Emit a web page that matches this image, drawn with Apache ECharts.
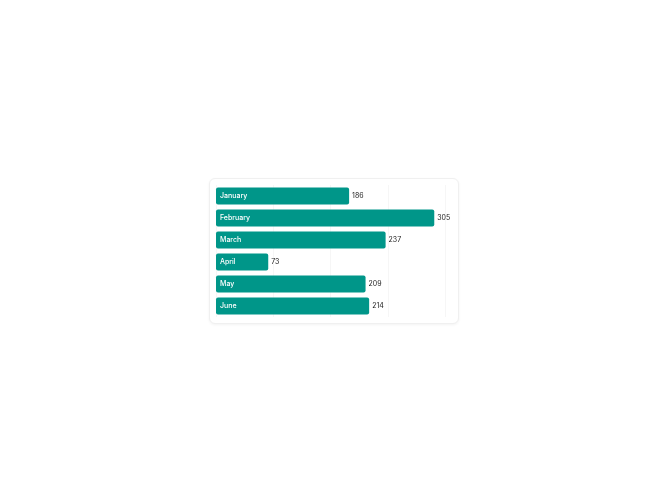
<!DOCTYPE html>
<html>
<head>
<meta charset="utf-8">
<script src="https://cdn.jsdelivr.net/npm/echarts@6/dist/echarts.min.js"></script>
<style>
    html, body { margin: 0; padding: 0; background: #fff; }
    .card {
        position: absolute; left: 209px; top: 178px; width: 248px; height: 144px;
        border: 1px solid #f0f0f0; border-radius: 6px; background: #fff;
        box-shadow: 0 1px 3px rgba(0, 0, 0, 0.05);
    }
    #chart { position: absolute; left: 0; top: 0; width: 668px; height: 501px; }
</style>
</head>
<body>
<div class="card"></div>
<div id="chart"></div>
<script>
// 数据
const months = ['January', 'February', 'March', 'April', 'May', 'June'];
const visitors = [186, 305, 237, 73, 209, 214];

const chart = echarts.init(document.getElementById('chart'));
chart.setOption({
    animation: false,
    textStyle: { fontFamily: 'Inter' },
    grid: { left: 216, right: 223, top: 185, height: 132 },
    xAxis: {
        type: 'value',
        min: 0,
        max: 320,
        interval: 80,
        axisLabel: { show: false },
        axisLine: { show: false },
        axisTick: { show: false },
        splitLine: { show: true, lineStyle: { color: '#f6f6f6', width: 1 } }
    },
    yAxis: {
        type: 'category',
        data: months,
        inverse: true,
        axisLabel: { show: false },
        axisLine: { show: false },
        axisTick: { show: false }
    },
    series: [
        {
            type: 'bar',
            data: visitors,
            barWidth: 17,
            itemStyle: { color: '#009689', borderRadius: 2 },
            label: {
                show: true,
                position: 'insideLeft',
                distance: 4,
                formatter: function (p) { return p.name; },
                color: '#fff',
                fontSize: 7,
                fontWeight: 500
            }
        },
        {
            type: 'bar',
            data: visitors,
            barWidth: 17,
            barGap: '-100%',
            itemStyle: { color: 'transparent' },
            label: {
                show: true,
                position: 'right',
                distance: 3,
                color: '#222',
                fontSize: 7
            },
            silent: true
        }
    ]
});
</script>
</body>
</html>
